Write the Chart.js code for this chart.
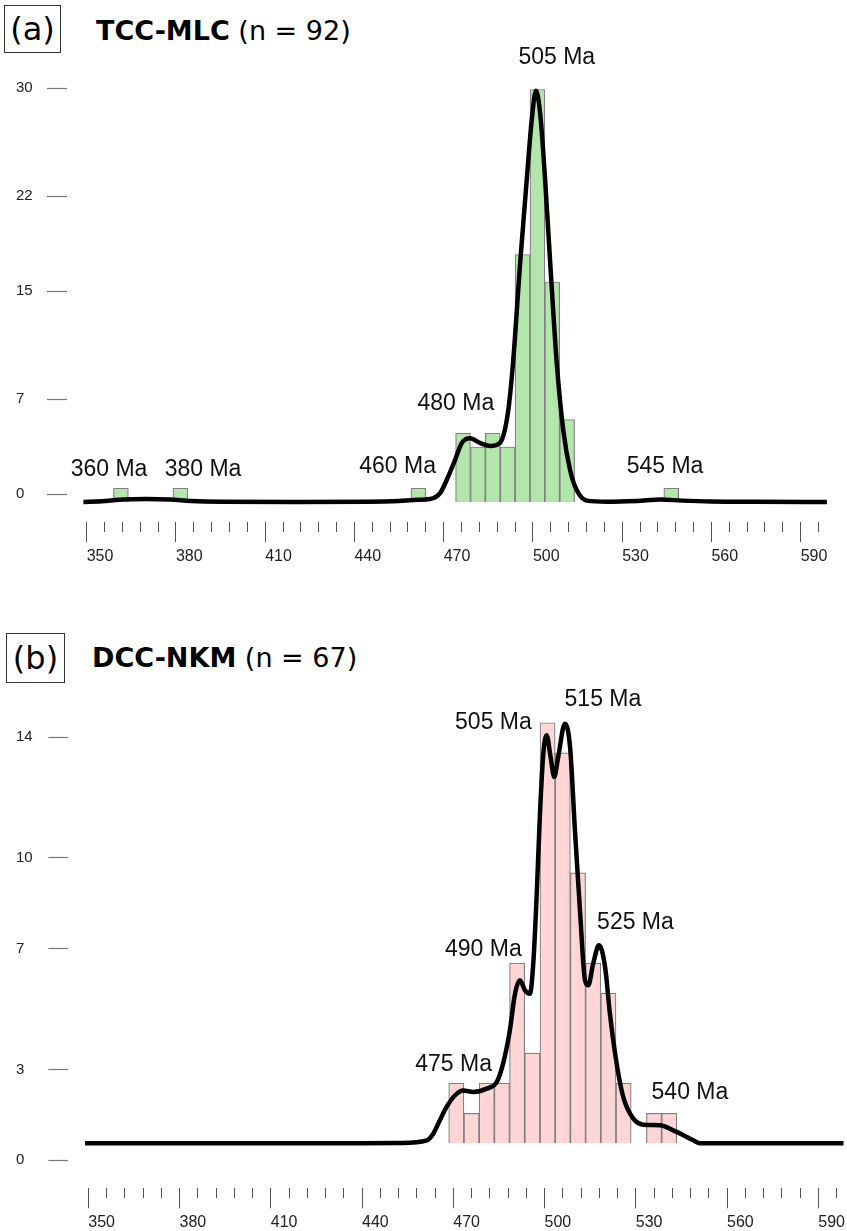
<!DOCTYPE html>
<html>
<head>
<meta charset="utf-8">
<script src="https://cdn.jsdelivr.net/npm/chart.js@4.4.1/dist/chart.umd.min.js"></script>
<style>
  body { margin: 0; background: #fff; }
  #page { position: relative; width: 847px; height: 1231px; overflow: hidden; font-family: "DejaVu Sans", sans-serif; color: #000; }
  canvas { position: absolute; left: 0; }
  .tag { position: absolute; box-sizing: border-box; border: 1px solid #333; display: flex; align-items: center; justify-content: center; font-size: 32px; }
  .title { position: absolute; font-size: 27px; line-height: 27px; white-space: nowrap; }
  .title b { font-weight: bold; }
</style>
</head>
<body>
<div id="page">
  <div class="tag" style="left:4px;top:5px;width:57px;height:48px;">(a)</div>
  <div class="title" style="left:96px;top:17px;"><b>TCC-MLC</b> (n = 92)</div>
  <canvas id="tcc" width="847" height="600" style="top:0"></canvas>

  <div class="tag" style="left:6px;top:633px;width:59px;height:50px;">(b)</div>
  <div class="title" style="left:92px;top:644px;"><b>DCC-NKM</b> (n = 67)</div>
  <canvas id="dcc" width="847" height="631" style="top:600px"></canvas>
</div>
<script>
// x axis: labelled every 30 Ma, minor marks every 6 Ma
const ageTicks = [];
for (let a = 350; a <= 596; a += 6) ageTicks.push(a);

// TCC-MLC (n = 92): 5 Ma bins, bin centre and grain count
const tccBinAges = [361.5, 381.5, 461.5, 476.5, 481.5, 486.5, 491.5, 496.5, 501.5, 506.5, 511.5, 546.5];
const tccCounts  = [1, 1, 1, 5, 4, 5, 4, 18, 30, 16, 6, 1];
// density curve, scaled to counts
const tccKdeAges = [348.9, 355, 362, 370, 378, 385, 395, 420, 445, 455, 460, 465.4, 468.8, 471.0, 473.8,
  476.1, 478.8, 482.2, 485.6, 488.9, 491.6, 493.3, 495.7, 497.9, 499.6, 501.0, 502.4, 504.1, 505.8,
  508.0, 510.2, 512.5, 514.7, 518.1, 525, 535, 543, 550, 560, 575, 598.8];
const tccKde = [0, 0.05, 0.18, 0.22, 0.18, 0.08, 0.02, 0, 0.02, 0.08, 0.15, 0.22, 0.65, 1.6, 3.05,
  4.3, 4.63, 4.3, 4.07, 4.3, 6.5, 10.1, 17.4, 23.4, 27.8, 29.9, 28.3, 23.4, 17.4,
  10.1, 5.2, 2.3, 0.87, 0.1, 0.02, 0.08, 0.18, 0.1, 0.03, 0.01, 0];
const tccYTicks = [0, 7, 15, 22, 30];
const tccPeaks = ['360 Ma', '380 Ma', '460 Ma', '480 Ma', '505 Ma', '545 Ma'];

// DCC-NKM (n = 67)
const dccBinAges = [471, 476, 481, 486, 491, 496, 501, 506, 511, 516, 521, 526, 536, 541];
const dccCounts  = [2, 1, 2, 2, 6, 3, 14, 13, 9, 6, 5, 2, 1, 1];
const dccKdeAges = [348.9, 440, 452.5, 461.3, 463.4, 465.6, 467.8, 470.6, 473.3, 476.6, 481.0, 484.3, 486.4,
  488.6, 490.3, 491.9, 493.6, 495.2, 496.3, 497.4, 498.5, 499.6, 500.7, 502.0, 503.2, 504.5,
  506.7, 508.4, 510.0, 511.7, 513.3, 514.4, 516.0, 517.9, 519.9, 521.5, 523.7, 525.9, 529.2,
  532.5, 538.0, 543.4, 548.9, 551.1, 598.8];
const dccKde = [0, 0, 0.01, 0.1, 0.32, 0.77, 1.21, 1.6, 1.76, 1.71, 1.82, 2.04, 2.66,
  3.76, 4.98, 5.43, 5.09, 4.98, 5.98, 8.2, 10.97, 12.97, 13.58, 12.86, 12.19, 12.86,
  13.97, 13.19, 10.42, 7.68, 5.43, 5.26, 5.98, 6.59, 5.88, 4.31, 2.66, 1.54, 0.82,
  0.62, 0.6, 0.38, 0.1, 0, 0];
const dccYTicks = [0, 3, 7, 10, 14];
const dccPeaks = ['475 Ma', '490 Ma', '505 Ma', '515 Ma', '525 Ma', '540 Ma'];

const tickFont = { family: '"Liberation Sans", Arial, sans-serif', size: 15 };

// peak ages written next to the density curve
const peakLabels = {
  id: 'peakLabels',
  afterDatasetsDraw(chart, args, opts) {
    const { ctx, scales } = chart;
    ctx.save();
    ctx.font = '23px "Liberation Sans", Arial, sans-serif';
    ctx.fillStyle = '#111';
    ctx.textAlign = 'center';
    ctx.textBaseline = 'middle';
    opts.text.forEach((t, i) => {
      const [age, h] = opts.at[i];
      ctx.fillText(t, scales.x.getPixelForValue(age), scales.y.getPixelForValue(h));
    });
    ctx.restore();
  }
};

function ageChart(canvas, p) {
  return new Chart(canvas, {
    type: 'bar',
    data: {
      datasets: [{
        type: 'line',
        data: p.kdeAges.map((a, i) => ({ x: a, y: p.kde[i] })),
        xAxisID: 'x',
        yAxisID: 'y',
        borderColor: '#000',
        borderWidth: 4.5,
        pointRadius: 0,
        cubicInterpolationMode: 'monotone',
        fill: false,
        order: 0
      }, {
        type: 'bar',
        data: p.binAges.map((a, i) => ({ x: a, y: p.counts[i] })),
        xAxisID: 'x',
        yAxisID: 'y',
        backgroundColor: p.fill,
        borderColor: '#808080',
        borderWidth: 1.2,
        barPercentage: 1,
        categoryPercentage: 1,
        grouped: false,
        order: 1
      }]
    },
    options: {
      responsive: false,
      animation: false,
      events: [],
      layout: { padding: p.padding },
      plugins: {
        legend: { display: false },
        tooltip: { enabled: false },
        peakLabels: { text: p.peaks, at: p.peakAt }
      },
      scales: {
        x: {
          type: 'linear',
          min: p.xMin,
          max: p.xMax,
          offset: false,
          afterBuildTicks: s => { s.ticks = ageTicks.map(v => ({ value: v })); },
          afterFit: s => { s.height = p.xAxisHeight; },
          border: { display: false },
          grid: {
            offset: false,
            drawOnChartArea: false,
            drawTicks: true,
            tickLength: 20,
            tickWidth: 1,
            tickColor: '#555',
            tickBorderDash: c => (c.tick && (c.tick.value - 350) % 30 === 0) ? [] : [10, 40]
          },
          ticks: {
            autoSkip: false,
            maxRotation: 0,
            align: 'start',
            padding: 5,
            color: '#222',
            font: { family: tickFont.family, size: 16 },
            callback: v => (v - 350) % 30 === 0 ? String(v) : ''
          }
        },
        yTicks: {
          position: 'left',
          min: p.tickMin,
          max: p.tickMax,
          afterBuildTicks: s => { s.ticks = p.yTicks.map(v => ({ value: v })); },
          afterFit: s => { s.width = p.yAxisWidth; },
          border: { display: false },
          grid: { drawOnChartArea: false, drawTicks: true, tickLength: 20, tickWidth: 1.2, tickColor: '#777' },
          ticks: { crossAlign: 'far', color: '#222', font: tickFont, callback: v => String(v) }
        },
        y: { display: false, min: p.yMin, max: p.yMax }
      }
    },
    plugins: [peakLabels]
  });
}

ageChart(document.getElementById('tcc'), {
  binAges: tccBinAges, counts: tccCounts, kdeAges: tccKdeAges, kde: tccKde,
  yTicks: tccYTicks, peaks: tccPeaks,
  peakAt: [[357.5, 2.33], [389.1, 2.33], [454.5, 2.55], [474.1, 7.16], [508.0, 32.29], [544.4, 2.58]],
  fill: '#b2e6ab',
  padding: { left: 16, right: 16.55, top: 60, bottom: 28 },
  xMin: 343.38, xMax: 600, xAxisHeight: 50, yAxisWidth: 51,
  tickMin: -2.069, tickMax: 32.07,
  yMin: -1.4545, yMax: 32.145
});

ageChart(document.getElementById('dcc'), {
  binAges: dccBinAges, counts: dccCounts, kdeAges: dccKdeAges, kde: dccKde,
  yTicks: dccYTicks, peaks: dccPeaks,
  peakAt: [[470.1, 2.61], [479.9, 6.44], [483.2, 13.99], [519.2, 14.76], [529.9, 7.33], [547.8, 1.67]],
  fill: '#ffd5d5',
  padding: { left: 16, right: 3.5, top: 70, bottom: 0.7 },
  xMin: 343.425, xMax: 598.3, xAxisHeight: 42, yAxisWidth: 52.3,
  tickMin: -0.9366, tickMax: 16.218,
  yMin: -1.498, yMax: 15.756
});
</script>
</body>
</html>
